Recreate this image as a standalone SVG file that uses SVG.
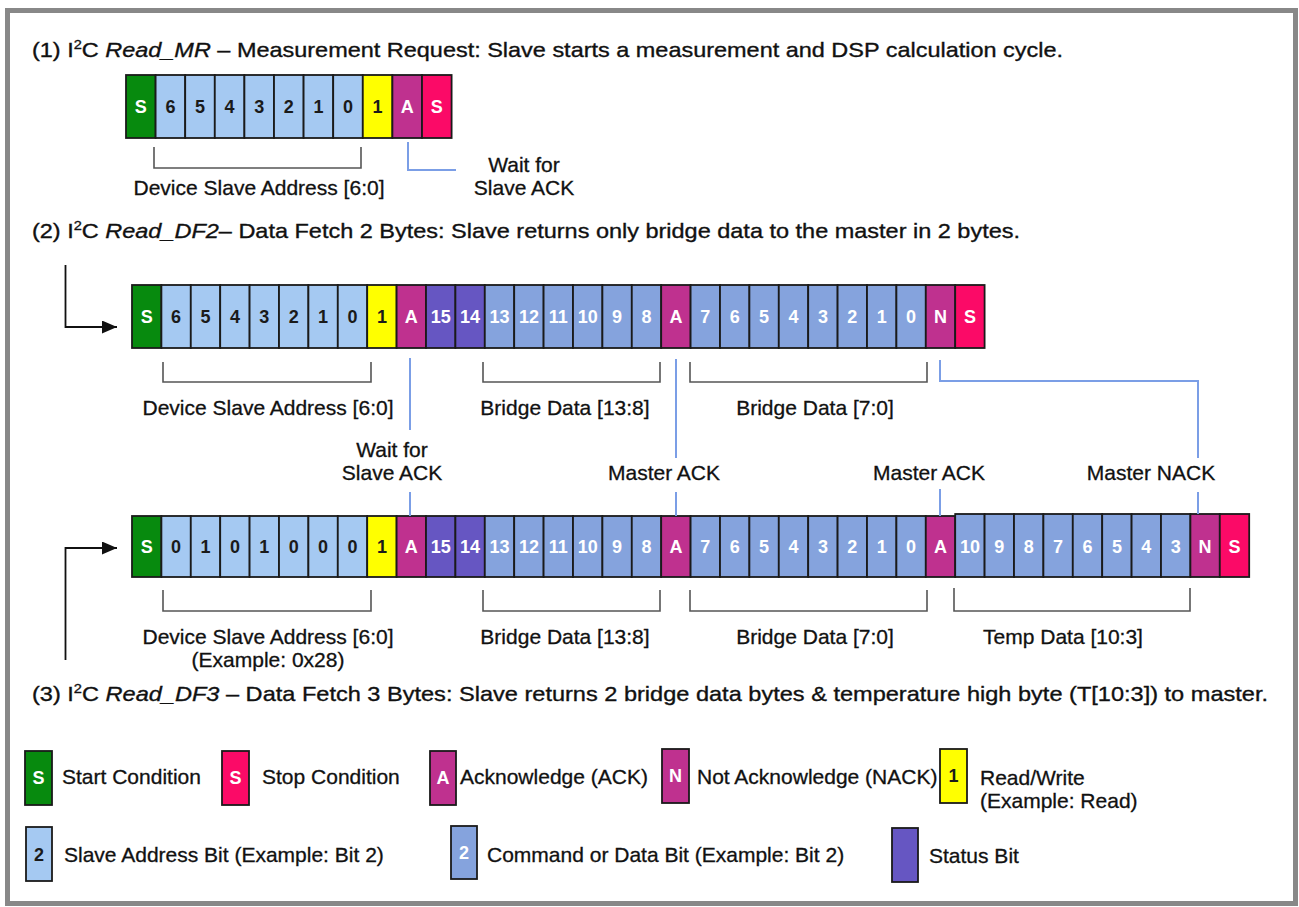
<svg xmlns="http://www.w3.org/2000/svg" width="1299" height="907" viewBox="0 0 1299 907">
<style>
  text { font-family: "Liberation Sans", Arial, sans-serif; }
  .ttl { font-size: 21px; fill: #111; stroke: #111; stroke-width: 0.35; }
  .lbl { font-size: 21px; fill: #111; text-anchor: middle; stroke: #111; stroke-width: 0.3; }
  .leg { font-size: 21px; fill: #111; stroke: #111; stroke-width: 0.3; }
  .c rect, rect.c { stroke: #1a1a1a; stroke-width: 1.8; }
  .g { fill: #078a0e; } .p { fill: #fb0a67; } .m { fill: #bf318f; } .y { fill: #ffff00; }
  .lb { fill: #a5c9f2; } .db { fill: #85a3dd; } .st { fill: #6656c2; }
  .cw { font-size: 18px; font-weight: bold; fill: #fff; text-anchor: middle; }
  .ck { font-size: 18px; font-weight: bold; fill: #1a1a1a; text-anchor: middle; }
  .br { fill: none; stroke: #555; stroke-width: 1.6; }
  .bl { fill: none; stroke: #7b9ee6; stroke-width: 2; }
  .ar { fill: none; stroke: #111; stroke-width: 1.8; }
</style>
<defs>
  <marker id="ah" viewBox="0 0 10 10" refX="10" refY="5" markerWidth="15" markerHeight="13" markerUnits="userSpaceOnUse" orient="auto" preserveAspectRatio="none">
    <path d="M0,0 L10,5 L0,10 z" fill="#111"/>
  </marker>
</defs>
<rect x="0" y="0" width="1299" height="907" fill="#fff"/>
<rect x="7.5" y="10.5" width="1288" height="893" fill="#fff" stroke="#888" stroke-width="5"/>

<!-- titles -->
<text id="title1" class="ttl" x="32" y="57" textLength="1031" lengthAdjust="spacingAndGlyphs">(1) I<tspan font-size="13" dy="-8">2</tspan><tspan dy="8">C </tspan><tspan font-style="italic">Read_MR</tspan> – Measurement Request: Slave starts a measurement and DSP calculation cycle.</text>
<text id="title2" class="ttl" x="32" y="238" textLength="988" lengthAdjust="spacingAndGlyphs">(2) I<tspan font-size="13" dy="-8">2</tspan><tspan dy="8">C </tspan><tspan font-style="italic">Read_DF2</tspan>– Data Fetch 2 Bytes: Slave returns only bridge data to the master in 2 bytes.</text>
<text id="title3" class="ttl" x="32" y="701" textLength="1236" lengthAdjust="spacingAndGlyphs">(3) I<tspan font-size="13" dy="-8">2</tspan><tspan dy="8">C </tspan><tspan font-style="italic">Read_DF3</tspan> – Data Fetch 3 Bytes: Slave returns 2 bridge data bytes &amp; temperature high byte (T[10:3]) to master.</text>

<!-- row 1 -->
<g id="row1" class="c">
  <rect class="g" x="126" y="75" width="29.6" height="63"/>
  <rect class="lb" x="155.6" y="75" width="29.6" height="63"/>
  <rect class="lb" x="185.2" y="75" width="29.6" height="63"/>
  <rect class="lb" x="214.8" y="75" width="29.6" height="63"/>
  <rect class="lb" x="244.4" y="75" width="29.6" height="63"/>
  <rect class="lb" x="274" y="75" width="29.6" height="63"/>
  <rect class="lb" x="303.6" y="75" width="29.6" height="63"/>
  <rect class="lb" x="333.2" y="75" width="29.6" height="63"/>
  <rect class="y" x="362.8" y="75" width="29.6" height="63"/>
  <rect class="m" x="392.4" y="75" width="29.6" height="63"/>
  <rect class="p" x="422" y="75" width="29.6" height="63"/>
  <text class="cw" x="140.8" y="113">S</text>
  <text class="ck" x="170.4" y="113">6</text>
  <text class="ck" x="200" y="113">5</text>
  <text class="ck" x="229.6" y="113">4</text>
  <text class="ck" x="259.2" y="113">3</text>
  <text class="ck" x="288.8" y="113">2</text>
  <text class="ck" x="318.4" y="113">1</text>
  <text class="ck" x="348" y="113">0</text>
  <text class="ck" x="377.6" y="113">1</text>
  <text class="cw" x="407.2" y="113">A</text>
  <text class="cw" x="436.8" y="113">S</text>
</g>

<!-- row 2 -->
<g id="row2" class="c">
  <rect class="g" x="132" y="285" width="29.4" height="63"/>
  <rect class="lb" x="161.4" y="285" width="29.4" height="63"/>
  <rect class="lb" x="190.8" y="285" width="29.4" height="63"/>
  <rect class="lb" x="220.2" y="285" width="29.4" height="63"/>
  <rect class="lb" x="249.6" y="285" width="29.4" height="63"/>
  <rect class="lb" x="279" y="285" width="29.4" height="63"/>
  <rect class="lb" x="308.4" y="285" width="29.4" height="63"/>
  <rect class="lb" x="337.8" y="285" width="29.4" height="63"/>
  <rect class="y" x="367.2" y="285" width="29.4" height="63"/>
  <rect class="m" x="396.6" y="285" width="29.4" height="63"/>
  <rect class="st" x="426" y="285" width="29.4" height="63"/>
  <rect class="st" x="455.4" y="285" width="29.4" height="63"/>
  <rect class="db" x="484.8" y="285" width="29.4" height="63"/>
  <rect class="db" x="514.2" y="285" width="29.4" height="63"/>
  <rect class="db" x="543.6" y="285" width="29.4" height="63"/>
  <rect class="db" x="573" y="285" width="29.4" height="63"/>
  <rect class="db" x="602.4" y="285" width="29.4" height="63"/>
  <rect class="db" x="631.8" y="285" width="29.4" height="63"/>
  <rect class="m" x="661.2" y="285" width="29.4" height="63"/>
  <rect class="db" x="690.6" y="285" width="29.4" height="63"/>
  <rect class="db" x="720" y="285" width="29.4" height="63"/>
  <rect class="db" x="749.4" y="285" width="29.4" height="63"/>
  <rect class="db" x="778.8" y="285" width="29.4" height="63"/>
  <rect class="db" x="808.2" y="285" width="29.4" height="63"/>
  <rect class="db" x="837.6" y="285" width="29.4" height="63"/>
  <rect class="db" x="867" y="285" width="29.4" height="63"/>
  <rect class="db" x="896.4" y="285" width="29.4" height="63"/>
  <rect class="m" x="925.8" y="285" width="29.4" height="63"/>
  <rect class="p" x="955.2" y="285" width="29.4" height="63"/>
  <text class="cw" x="146.7" y="323">S</text>
  <text class="ck" x="176.1" y="323">6</text>
  <text class="ck" x="205.5" y="323">5</text>
  <text class="ck" x="234.9" y="323">4</text>
  <text class="ck" x="264.3" y="323">3</text>
  <text class="ck" x="293.7" y="323">2</text>
  <text class="ck" x="323.1" y="323">1</text>
  <text class="ck" x="352.5" y="323">0</text>
  <text class="ck" x="381.9" y="323">1</text>
  <text class="cw" x="411.3" y="323">A</text>
  <text class="cw" x="440.7" y="323">15</text>
  <text class="cw" x="470.1" y="323">14</text>
  <text class="cw" x="499.5" y="323">13</text>
  <text class="cw" x="528.9" y="323">12</text>
  <text class="cw" x="558.3" y="323">11</text>
  <text class="cw" x="587.7" y="323">10</text>
  <text class="cw" x="617.1" y="323">9</text>
  <text class="cw" x="646.5" y="323">8</text>
  <text class="cw" x="675.9" y="323">A</text>
  <text class="cw" x="705.3" y="323">7</text>
  <text class="cw" x="734.7" y="323">6</text>
  <text class="cw" x="764.1" y="323">5</text>
  <text class="cw" x="793.5" y="323">4</text>
  <text class="cw" x="822.9" y="323">3</text>
  <text class="cw" x="852.3" y="323">2</text>
  <text class="cw" x="881.7" y="323">1</text>
  <text class="cw" x="911.1" y="323">0</text>
  <text class="cw" x="940.5" y="323">N</text>
  <text class="cw" x="969.9" y="323">S</text>
</g>

<!-- row 3 -->
<g id="row3" class="c">
  <rect class="g" x="132" y="516" width="29.4" height="61"/>
  <rect class="lb" x="161.4" y="516" width="29.4" height="61"/>
  <rect class="lb" x="190.8" y="516" width="29.4" height="61"/>
  <rect class="lb" x="220.2" y="516" width="29.4" height="61"/>
  <rect class="lb" x="249.6" y="516" width="29.4" height="61"/>
  <rect class="lb" x="279" y="516" width="29.4" height="61"/>
  <rect class="lb" x="308.4" y="516" width="29.4" height="61"/>
  <rect class="lb" x="337.8" y="516" width="29.4" height="61"/>
  <rect class="y" x="367.2" y="516" width="29.4" height="61"/>
  <rect class="m" x="396.6" y="516" width="29.4" height="61"/>
  <rect class="st" x="426" y="516" width="29.4" height="61"/>
  <rect class="st" x="455.4" y="516" width="29.4" height="61"/>
  <rect class="db" x="484.8" y="516" width="29.4" height="61"/>
  <rect class="db" x="514.2" y="516" width="29.4" height="61"/>
  <rect class="db" x="543.6" y="516" width="29.4" height="61"/>
  <rect class="db" x="573" y="516" width="29.4" height="61"/>
  <rect class="db" x="602.4" y="516" width="29.4" height="61"/>
  <rect class="db" x="631.8" y="516" width="29.4" height="61"/>
  <rect class="m" x="661.2" y="516" width="29.4" height="61"/>
  <rect class="db" x="690.6" y="516" width="29.4" height="61"/>
  <rect class="db" x="720" y="516" width="29.4" height="61"/>
  <rect class="db" x="749.4" y="516" width="29.4" height="61"/>
  <rect class="db" x="778.8" y="516" width="29.4" height="61"/>
  <rect class="db" x="808.2" y="516" width="29.4" height="61"/>
  <rect class="db" x="837.6" y="516" width="29.4" height="61"/>
  <rect class="db" x="867" y="516" width="29.4" height="61"/>
  <rect class="db" x="896.4" y="516" width="29.4" height="61"/>
  <rect class="m" x="925.8" y="516" width="29.4" height="61"/>
  <rect class="db" x="955.2" y="514" width="29.4" height="63"/>
  <rect class="db" x="984.6" y="514" width="29.4" height="63"/>
  <rect class="db" x="1014" y="514" width="29.4" height="63"/>
  <rect class="db" x="1043.4" y="514" width="29.4" height="63"/>
  <rect class="db" x="1072.8" y="514" width="29.4" height="63"/>
  <rect class="db" x="1102.2" y="514" width="29.4" height="63"/>
  <rect class="db" x="1131.6" y="514" width="29.4" height="63"/>
  <rect class="db" x="1161" y="514" width="29.4" height="63"/>
  <rect class="m" x="1190.4" y="514" width="29.4" height="63"/>
  <rect class="p" x="1219.8" y="514" width="29.4" height="63"/>
  <text class="cw" x="146.7" y="553">S</text>
  <text class="ck" x="176.1" y="553">0</text>
  <text class="ck" x="205.5" y="553">1</text>
  <text class="ck" x="234.9" y="553">0</text>
  <text class="ck" x="264.3" y="553">1</text>
  <text class="ck" x="293.7" y="553">0</text>
  <text class="ck" x="323.1" y="553">0</text>
  <text class="ck" x="352.5" y="553">0</text>
  <text class="ck" x="381.9" y="553">1</text>
  <text class="cw" x="411.3" y="553">A</text>
  <text class="cw" x="440.7" y="553">15</text>
  <text class="cw" x="470.1" y="553">14</text>
  <text class="cw" x="499.5" y="553">13</text>
  <text class="cw" x="528.9" y="553">12</text>
  <text class="cw" x="558.3" y="553">11</text>
  <text class="cw" x="587.7" y="553">10</text>
  <text class="cw" x="617.1" y="553">9</text>
  <text class="cw" x="646.5" y="553">8</text>
  <text class="cw" x="675.9" y="553">A</text>
  <text class="cw" x="705.3" y="553">7</text>
  <text class="cw" x="734.7" y="553">6</text>
  <text class="cw" x="764.1" y="553">5</text>
  <text class="cw" x="793.5" y="553">4</text>
  <text class="cw" x="822.9" y="553">3</text>
  <text class="cw" x="852.3" y="553">2</text>
  <text class="cw" x="881.7" y="553">1</text>
  <text class="cw" x="911.1" y="553">0</text>
  <text class="cw" x="940.5" y="553">A</text>
  <text class="cw" x="969.9" y="553">10</text>
  <text class="cw" x="999.3" y="553">9</text>
  <text class="cw" x="1028.7" y="553">8</text>
  <text class="cw" x="1058.1" y="553">7</text>
  <text class="cw" x="1087.5" y="553">6</text>
  <text class="cw" x="1116.9" y="553">5</text>
  <text class="cw" x="1146.3" y="553">4</text>
  <text class="cw" x="1175.7" y="553">3</text>
  <text class="cw" x="1205.1" y="553">N</text>
  <text class="cw" x="1234.5" y="553">S</text>
</g>

<!-- connectors -->
<g id="connectors">
  <path class="br" d="M154 147 V168 H361 V147"/>
  <path class="bl" d="M408 142 V170 H456"/>
  <path class="ar" d="M65.5 265 V327 H117" marker-end="url(#ah)"/>
  <path class="ar" d="M65.5 660 V548 H117" marker-end="url(#ah)"/>
  <path class="br" d="M163 362 V382 H371 V362"/>
  <path class="br" d="M483 362 V382 H660 V362"/>
  <path class="br" d="M690 362 V382 H927 V362"/>
  <path class="bl" d="M410 358 V430"/>
  <path class="bl" d="M410 492 V516"/>
  <path class="bl" d="M676 359 V458"/>
  <path class="bl" d="M676 492 V516"/>
  <path class="bl" d="M940 360 V381 H1198 V458"/>
  <path class="bl" d="M1198 492 V514"/>
  <path class="bl" d="M940 489 V516"/>
  <path class="br" d="M163 590 V611 H371 V590"/>
  <path class="br" d="M483 590 V611 H660 V590"/>
  <path class="br" d="M690 590 V611 H927 V590"/>
  <path class="br" d="M954 588 V611 H1190 V588"/>
</g>

<!-- labels -->
<g id="labels">
  <text class="lbl" x="259" y="195">Device Slave Address [6:0]</text>
  <text class="lbl" x="524" y="172">Wait for</text>
  <text class="lbl" x="524" y="195">Slave ACK</text>
  <text class="lbl" x="268" y="415">Device Slave Address [6:0]</text>
  <text class="lbl" x="565" y="415">Bridge Data [13:8]</text>
  <text class="lbl" x="815" y="415">Bridge Data [7:0]</text>
  <text class="lbl" x="392" y="457">Wait for</text>
  <text class="lbl" x="392" y="480">Slave ACK</text>
  <text class="lbl" x="664" y="480">Master ACK</text>
  <text class="lbl" x="929" y="480">Master ACK</text>
  <text class="lbl" x="1151" y="480">Master NACK</text>
  <text class="lbl" x="268" y="644">Device Slave Address [6:0]</text>
  <text class="lbl" x="268" y="667">(Example: 0x28)</text>
  <text class="lbl" x="565" y="644">Bridge Data [13:8]</text>
  <text class="lbl" x="815" y="644">Bridge Data [7:0]</text>
  <text class="lbl" x="1063" y="644">Temp Data [10:3]</text>
</g>

<!-- legend -->
<g id="leg-start" class="c"><rect class="g" x="25" y="751" width="27" height="54"/><text class="cw" x="38.5" y="784">S</text><text class="leg" x="62" y="784">Start Condition</text></g>
<g id="leg-stop" class="c"><rect class="p" x="222" y="751" width="27" height="54"/><text class="cw" x="235.5" y="784">S</text><text class="leg" x="262" y="784">Stop Condition</text></g>
<g id="leg-ack" class="c"><rect class="m" x="430" y="751" width="26" height="54"/><text class="cw" x="443" y="784">A</text><text class="leg" x="460" y="784">Acknowledge (ACK)</text></g>
<g id="leg-nack" class="c"><rect class="m" x="662" y="749" width="27" height="54"/><text class="cw" x="675.5" y="782">N</text><text class="leg" x="697" y="784">Not Acknowledge (NACK)</text></g>
<g id="leg-rw" class="c"><rect class="y" x="940" y="749" width="27" height="54"/><text class="ck" x="953.5" y="782">1</text><text class="leg" x="980" y="785">Read/Write</text><text class="leg" x="980" y="808">(Example: Read)</text></g>
<g id="leg-addr" class="c"><rect class="lb" x="26" y="827" width="26" height="54"/><text class="ck" x="39" y="861">2</text><text class="leg" x="64" y="862">Slave Address Bit (Example: Bit 2)</text></g>
<g id="leg-data" class="c"><rect class="db" x="451" y="826" width="26" height="53"/><text class="cw" x="464" y="859">2</text><text class="leg" x="487" y="862">Command or Data Bit (Example: Bit 2)</text></g>
<g id="leg-status" class="c"><rect class="st" x="892" y="828" width="26" height="54"/><text class="leg" x="929" y="863">Status Bit</text></g>
</svg>
